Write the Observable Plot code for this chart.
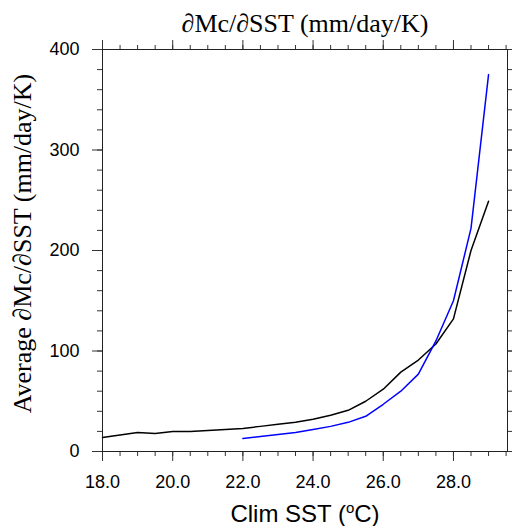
<!DOCTYPE html>
<html>
<head>
<meta charset="utf-8">
<script src="https://cdn.jsdelivr.net/npm/d3@7"></script>
<script src="https://cdn.jsdelivr.net/npm/@observablehq/plot@0.6"></script>
<style>
  html, body { margin: 0; padding: 0; background: #fff; }
</style>
</head>
<body>
<div id="chart"></div>
<script>
// Data
const sstBlack = [18, 18.5, 19, 19.5, 20, 20.5, 21, 21.5, 22, 22.5, 23, 23.5, 24, 24.5, 25, 25.5, 26, 26.5, 27, 27.5, 28, 28.5, 29];
const valBlack = [14, 16.5, 19, 18, 20, 20, 21, 22, 23, 25, 27, 29, 32, 36, 41, 50, 62, 79, 91, 107, 132, 200, 249];
const sstBlue = [22, 22.5, 23, 23.5, 24, 24.5, 25, 25.5, 26, 26.5, 27, 27.5, 28, 28.5, 29];
const valBlue = [13, 15, 17, 19, 22, 25, 29, 35, 47, 60, 77, 110, 150, 222, 375];

const xMajor = [18, 20, 22, 24, 26, 28];
const xMinor = d3.range(18, 29.51, 0.5);
const yMajor = [0, 100, 200, 300, 400];
const yMinor = d3.range(0, 401, 20);

const titleText = "∂Mc/∂SST (mm/day/K)";
const yLabelText = "Average ∂Mc/∂SST (mm/day/K)";
const xLabelText = "Clim SST (oC)";

const black = sstBlack.map((x, i) => ({x, y: valBlack[i]}));
const blue = sstBlue.map((x, i) => ({x, y: valBlue[i]}));

const tickColor = "#333";
const sans = "Liberation Sans, Arial, Helvetica, sans-serif";
const serif = "Liberation Serif, Times New Roman, serif";

const chart = Plot.plot({
  width: 512,
  height: 526,
  marginLeft: 102,
  marginRight: 5,
  marginTop: 49,
  marginBottom: 75,
  style: {fontFamily: sans, fontSize: "18px", background: "#fff", color: "#000"},
  x: {domain: [18, 29.54]},
  y: {domain: [0, 400]},
  marks: [
    // minor ticks
    Plot.axisX({anchor: "bottom", ticks: xMinor, tickSize: 5, tickFormat: () => "", label: null, stroke: tickColor}),
    Plot.axisX({anchor: "top", ticks: xMinor, tickSize: 5, tickFormat: () => "", label: null, stroke: tickColor}),
    Plot.axisY({anchor: "left", ticks: yMinor, tickSize: 5, tickFormat: () => "", label: null, stroke: tickColor}),
    Plot.axisY({anchor: "right", ticks: yMinor, tickSize: 5, tickFormat: () => "", label: null, stroke: tickColor}),
    // major ticks
    Plot.axisX({anchor: "bottom", ticks: xMajor, tickSize: 10, tickPadding: 14, tickFormat: d => d.toFixed(1), label: null, stroke: tickColor, fontSize: 18}),
    Plot.axisX({anchor: "top", ticks: xMajor, tickSize: 10, tickFormat: () => "", label: null, stroke: tickColor}),
    Plot.axisY({anchor: "left", ticks: yMajor, tickSize: 10, tickPadding: 13, tickFormat: d => String(d), label: null, stroke: tickColor, fontSize: 18}),
    Plot.axisY({anchor: "right", ticks: yMajor, tickSize: 10, tickFormat: () => "", label: null, stroke: tickColor}),
    Plot.frame({stroke: "#222", strokeWidth: 1}),
    Plot.line(black, {x: "x", y: "y", stroke: "#000", strokeWidth: 1.5}),
    Plot.line(blue, {x: "x", y: "y", stroke: "#0000ff", strokeWidth: 1.5}),
    Plot.text([titleText], {frameAnchor: "top", textAnchor: "middle", lineAnchor: "bottom", dy: -18, fontFamily: serif, fontSize: 26, fill: "#000"}),
    Plot.text([yLabelText], {frameAnchor: "left", textAnchor: "middle", rotate: -90, lineAnchor: "middle", dx: -80, dy: -7, fontFamily: serif, fontSize: 26, fill: "#000"}),
    Plot.text([xLabelText], {frameAnchor: "bottom", textAnchor: "middle", lineAnchor: "bottom", dy: 70, fontFamily: sans, fontSize: 24, fill: "#000"})
  ]
});

// superscript the "o" in the x-axis label
d3.select(chart).selectAll("text").filter(function () { return this.textContent === xLabelText; }).each(function () {
  const t = d3.select(this);
  t.text(null);
  t.append("tspan").text("Clim SST (");
  t.append("tspan").attr("font-size", "15px").attr("dy", "-9px").text("o");
  t.append("tspan").attr("dy", "9px").text("C)");
});

document.getElementById("chart").appendChild(chart);
</script>
</body>
</html>
